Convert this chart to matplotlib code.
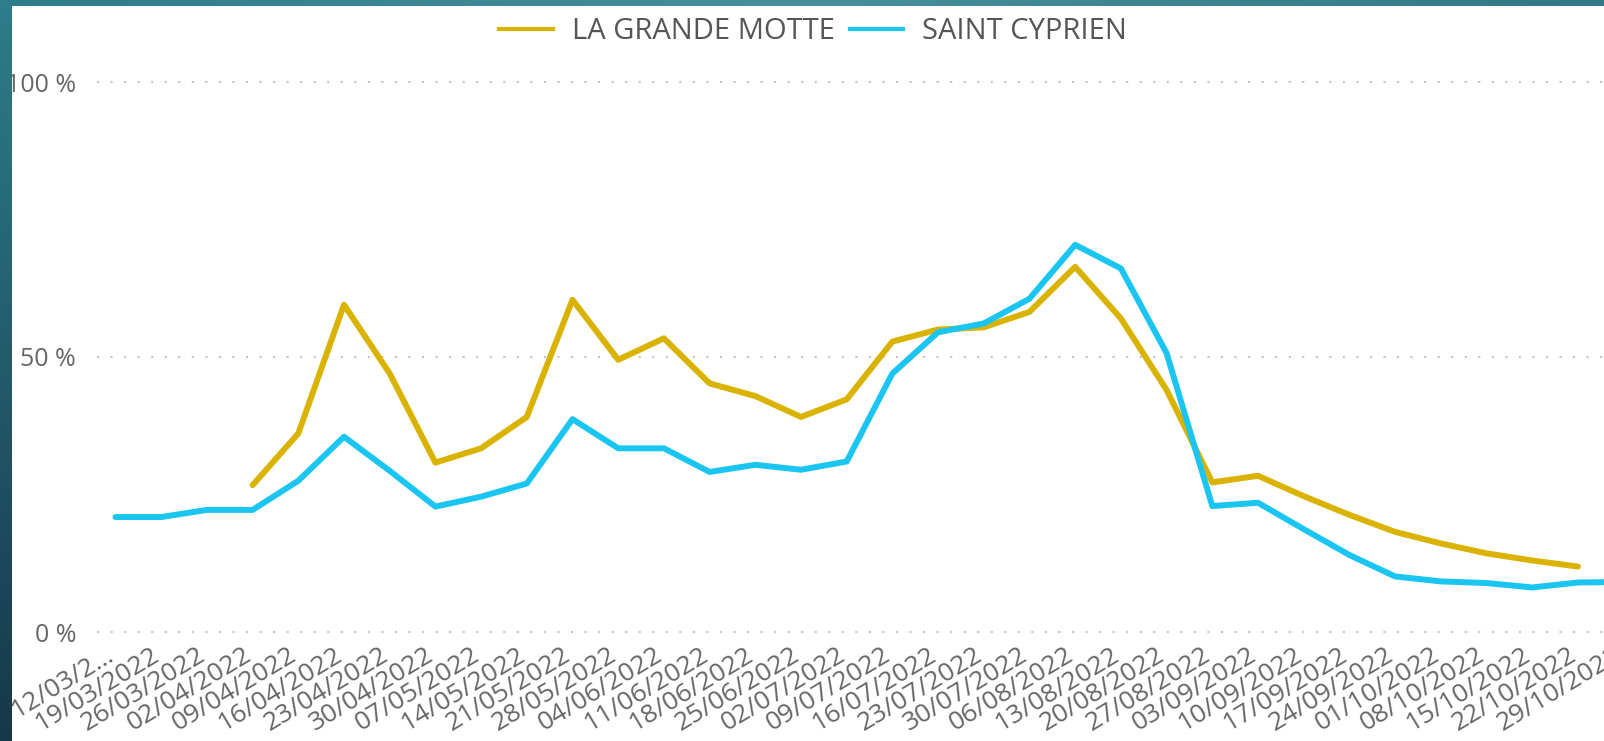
import numpy as np
import matplotlib.pyplot as plt
from matplotlib.lines import Line2D
from matplotlib.transforms import ScaledTranslation

plt.rcParams['font.family'] = ['Open Sans', 'DejaVu Sans']

# weekly dates (first label is truncated in the original)
weeks = ["12/03/2…", "19/03/2022", "26/03/2022", "02/04/2022", "09/04/2022",
         "16/04/2022", "23/04/2022", "30/04/2022", "07/05/2022", "14/05/2022",
         "21/05/2022", "28/05/2022", "04/06/2022", "11/06/2022", "18/06/2022",
         "25/06/2022", "02/07/2022", "09/07/2022", "16/07/2022", "23/07/2022",
         "30/07/2022", "06/08/2022", "13/08/2022", "20/08/2022", "27/08/2022",
         "03/09/2022", "10/09/2022", "17/09/2022", "24/09/2022", "01/10/2022",
         "08/10/2022", "15/10/2022", "22/10/2022", "29/10/2022"]

nan = np.nan
grande_motte = [nan, nan, nan, 26.7, 36.1, 59.5, 47.0, 30.8, 33.4, 39.1,
                60.4, 49.5, 53.4, 45.2, 42.9, 39.1, 42.3, 52.8, 55.0, 55.4,
                58.2, 66.4, 57.0, 44.0, 27.2, 28.4, 24.7, 21.3, 18.2, 16.1,
                14.3, 13.0, 11.9, nan]
saint_cyprien = [20.9, 20.9, 22.2, 22.2, 27.5, 35.5, 29.3, 22.8, 24.6, 27.0,
                 38.7, 33.4, 33.4, 29.1, 30.4, 29.5, 31.0, 47.0, 54.5, 56.1,
                 60.6, 70.4, 66.1, 50.7, 22.9, 23.5, 18.7, 14.0, 10.1, 9.2,
                 8.9, 8.1, 9.0, 9.1]

series_names = ["LA GRANDE MOTTE", "SAINT CYPRIEN"]
colors = ["#D9B300", "#1BC5F2"]

W, H = 1604, 741
fig = plt.figure(figsize=(W / 100, H / 100), dpi=100)
fig.patch.set_facecolor("white")

# main plot area (extends past the right edge, like the cropped screenshot)
x0, dx = 115.5, 45.7
left_px, right_px = 97, 1650
ax = fig.add_axes([left_px / W, 1 - 659.5 / H, (right_px - left_px) / W, (659.5 - 54.5) / H])
ax.set_zorder(1)
x = np.arange(len(weeks))
ax.plot(x, grande_motte, color=colors[0], lw=4.3, solid_capstyle="round", solid_joinstyle="round")
ax.plot(x, saint_cyprien, color=colors[1], lw=4.3, solid_capstyle="round", solid_joinstyle="round")
ax.set_xlim((left_px - x0) / dx, (right_px - x0) / dx)
ax.set_ylim(-5, 105)

ax.set_yticks([0, 50, 100])
ax.set_yticklabels(["0 %", "50 %", "100 %"])
ax.yaxis.grid(True, linestyle=(0, (1, 5.5)), color="#c4c4c4", lw=1.5)
ax.set_xticks(x)
ax.set_xticklabels(weeks, rotation=31, ha="right", va="top", rotation_mode="anchor")
ax.tick_params(axis="y", length=0, pad=15, labelsize=18, labelcolor="#666666")
ax.tick_params(axis="x", length=0, pad=0, labelsize=19, labelcolor="#666666")
shift = ScaledTranslation(-10 / 100, 17 / 100, fig.dpi_scale_trans)
for lab in ax.get_xticklabels():
    lab.set_transform(lab.get_transform() + shift)
for s in ax.spines.values():
    s.set_visible(False)

# legend
handles = [Line2D([], [], color=c, lw=3) for c in colors]
leg = fig.legend(handles, series_names, loc="center", bbox_to_anchor=(0.507, 0.957),
                 ncol=2, frameon=False, handlelength=1.85, handletextpad=0.65,
                 columnspacing=0.5, fontsize=21)
for t in leg.get_texts():
    t.set_color("#555555")

# teal frame on the left and top
left_strip = fig.add_axes([0, 0, 12 / W, 1])
grad_v = np.linspace(0, 1, 200)[:, None]
c_top, c_bot = np.array([0x2e, 0x7d, 0x8a]) / 255, np.array([0x16, 0x38, 0x4a]) / 255
img_v = c_top + grad_v[..., None] * (c_bot - c_top)
left_strip.imshow(img_v, aspect="auto", extent=[0, 1, 0, 1])
left_strip.axis("off")
left_strip.set_zorder(5)

top_strip = fig.add_axes([0, 1 - 6 / H, 1, 6 / H])
cols = np.array([[0x2e, 0x7d, 0x8a], [0x48, 0x90, 0x9b], [0x33, 0x78, 0x84]]) / 255
t = np.linspace(0, 2, 400)
img_h = np.array([np.interp(t, [0, 1, 2], cols[:, k]) for k in range(3)]).T[None, :, :]
top_strip.imshow(img_h, aspect="auto", extent=[0, 1, 0, 1])
top_strip.axis("off")
top_strip.set_zorder(5)

fig.savefig("out.png", dpi=100)
